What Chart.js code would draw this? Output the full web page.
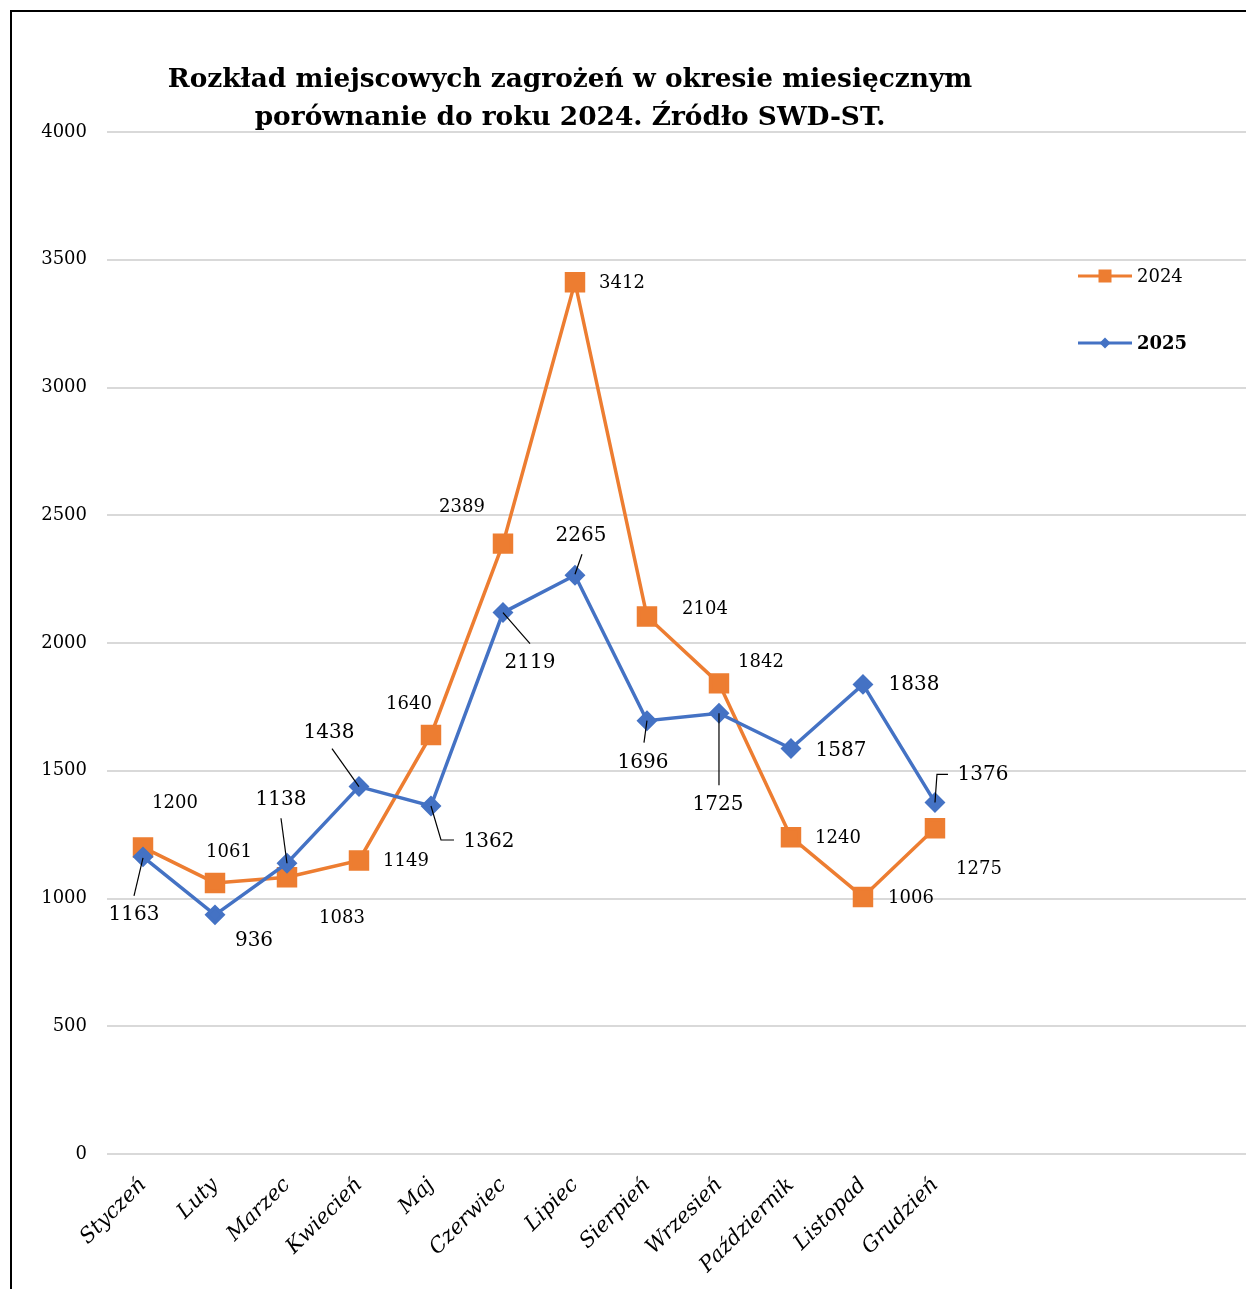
<!DOCTYPE html>
<html>
<head>
<meta charset="utf-8">
<script src="https://cdn.jsdelivr.net/npm/chart.js@4.4.1/dist/chart.umd.min.js"></script>
<style>
  html, body { margin: 0; padding: 0; background: #fff; overflow: hidden; }
  #wrap { width: 1246px; height: 1289px; }
</style>
</head>
<body>
<div id="wrap"><canvas id="chart" width="1246" height="1289"></canvas></div>
<script>
// data
const months = ['Styczeń', 'Luty', 'Marzec', 'Kwiecień', 'Maj', 'Czerwiec', 'Lipiec', 'Sierpień', 'Wrzesień', 'Październik', 'Listopad', 'Grudzień'];
const values2024 = [1200, 1061, 1083, 1149, 1640, 2389, 3412, 2104, 1842, 1240, 1006, 1275];
const values2025 = [1163, 936, 1138, 1438, 1362, 2119, 2265, 1696, 1725, 1587, 1838, 1376];
const titleLines = ['Rozkład miejscowych zagrożeń w okresie miesięcznym', 'porównanie do roku 2024. Źródło SWD-ST.'];

const ORANGE = '#ED7D31';
const BLUE = '#4472C4';
const SERIF = '"DejaVu Serif", serif';

// where each value label sits, relative to its point
const offsets2024 = [[32, -44], [14, -31], [55, 41], [47, 1], [-22, -31], [-41, -36], [47, 1], [58, -7], [42, -21], [47, 1], [48, 1], [44, 41]];
const offsets2025 = [[-9, 58], [39, 26], [-6, -63], [-30, -54], [58, 36], [27, 50], [6, -39], [-4, 42], [-1, 92], [50, 2], [51, 0], [48, -28]];
// leader lines for moved labels (polyline relative to point)
const leaders2025 = {
  0: [[0, 1], [-9, 39]],
  2: [[0, 0], [-6, -45]],
  3: [[0, 0], [-27, -38]],
  4: [[0, 0], [10, 34], [23, 34]],
  5: [[0, 0], [27, 31]],
  6: [[0, -1], [7, -21]],
  7: [[0, 0], [-3, 22]],
  8: [[0, 0], [0, 72]],
  11: [[0, 0], [2, -28], [13, -28]]
};

const frame = {
  id: 'frame',
  beforeDraw(chart) {
    const ctx = chart.ctx;
    ctx.save();
    ctx.fillStyle = '#fff';
    ctx.fillRect(0, 0, chart.width, chart.height);
    ctx.strokeStyle = '#000';
    ctx.lineWidth = 2;
    ctx.beginPath();
    ctx.moveTo(11, chart.height);
    ctx.lineTo(11, 11);
    ctx.lineTo(chart.width, 11);
    ctx.stroke();
    ctx.restore();
  }
};

const extras = {
  id: 'extras',
  afterDatasetsDraw(chart) {
    const ctx = chart.ctx;
    ctx.save();

    // title
    ctx.fillStyle = '#000';
    ctx.textAlign = 'center';
    ctx.textBaseline = 'alphabetic';
    ctx.font = 'bold 26.4px ' + SERIF;
    ctx.fillText(titleLines[0], 570, 87);
    ctx.fillText(titleLines[1], 570, 125);

    // leader lines
    const m25 = chart.getDatasetMeta(0);
    ctx.strokeStyle = '#000';
    ctx.lineWidth = 1.2;
    Object.keys(leaders2025).forEach(k => {
      const p = m25.data[k];
      const pts = leaders2025[k];
      ctx.beginPath();
      ctx.moveTo(p.x + pts[0][0], p.y + pts[0][1]);
      for (let i = 1; i < pts.length; i++) ctx.lineTo(p.x + pts[i][0], p.y + pts[i][1]);
      ctx.stroke();
    });

    // value labels
    ctx.textBaseline = 'middle';
    const m24 = chart.getDatasetMeta(1);
    ctx.font = '18px ' + SERIF;
    m24.data.forEach((p, i) => {
      ctx.fillText(String(values2024[i]), p.x + offsets2024[i][0], p.y + offsets2024[i][1]);
    });
    ctx.font = '20px ' + SERIF;
    m25.data.forEach((p, i) => {
      ctx.fillText(String(values2025[i]), p.x + offsets2025[i][0], p.y + offsets2025[i][1]);
    });

    // legend
    const items = [
      { text: '2024', color: ORANGE, y: 276, bold: false, shape: 'rect' },
      { text: '2025', color: BLUE, y: 343, bold: true, shape: 'diamond' }
    ];
    items.forEach(it => {
      ctx.strokeStyle = it.color;
      ctx.fillStyle = it.color;
      ctx.lineWidth = 3;
      ctx.beginPath();
      ctx.moveTo(1078, it.y);
      ctx.lineTo(1132, it.y);
      ctx.stroke();
      ctx.beginPath();
      if (it.shape === 'rect') {
        ctx.rect(1105 - 6.5, it.y - 6.5, 13, 13);
      } else {
        ctx.moveTo(1105, it.y - 5.5);
        ctx.lineTo(1110.5, it.y);
        ctx.lineTo(1105, it.y + 5.5);
        ctx.lineTo(1099.5, it.y);
        ctx.closePath();
      }
      ctx.fill();
      ctx.fillStyle = '#000';
      ctx.textAlign = 'left';
      ctx.font = (it.bold ? 'bold ' : '') + '18px ' + SERIF;
      ctx.fillText(it.text, 1137, it.y + 1);
    });

    ctx.restore();
  }
};

new Chart(document.getElementById('chart'), {
  type: 'line',
  data: {
    datasets: [
      {
        label: '2025',
        data: values2025.map((v, i) => ({ x: i, y: v })),
        borderColor: BLUE,
        backgroundColor: BLUE,
        borderWidth: 3.5,
        pointStyle: 'rectRot',
        pointRadius: 8,
        pointHoverRadius: 8,
        tension: 0,
        order: 0
      },
      {
        label: '2024',
        data: values2024.map((v, i) => ({ x: i, y: v })),
        borderColor: ORANGE,
        backgroundColor: ORANGE,
        borderWidth: 3.5,
        pointStyle: 'rect',
        pointRadius: 12,
        pointHoverRadius: 12,
        tension: 0,
        order: 1
      }
    ]
  },
  options: {
    responsive: false,
    animation: false,
    events: [],
    layout: { autoPadding: false, padding: { top: 132, left: 0, right: 0, bottom: 0 } },
    plugins: {
      legend: { display: false },
      title: { display: false },
      tooltip: { enabled: false }
    },
    scales: {
      x: {
        type: 'linear',
        min: -0.5,
        max: 15.32,
        afterFit: s => { s.height = 135; s.paddingRight = 0; s.paddingLeft = 0; },
        grid: { display: false },
        border: { display: false },
        ticks: {
          stepSize: 1,
          autoSkip: false,
          maxRotation: 45,
          minRotation: 45,
          padding: 11,
          color: '#000',
          font: { family: SERIF, size: 21, style: 'italic' },
          callback: v => (Number.isInteger(v) && months[v]) ? months[v] : ''
        }
      },
      y: {
        min: 0,
        max: 4000,
        afterFit: s => { s.width = 107; },
        border: { display: false },
        grid: { color: '#d9d9d9', lineWidth: 2, drawTicks: false },
        ticks: {
          stepSize: 500,
          padding: 20,
          color: '#000',
          font: { family: SERIF, size: 18 },
          callback: v => String(v)
        }
      }
    }
  },
  plugins: [frame, extras]
});
</script>
</body>
</html>
